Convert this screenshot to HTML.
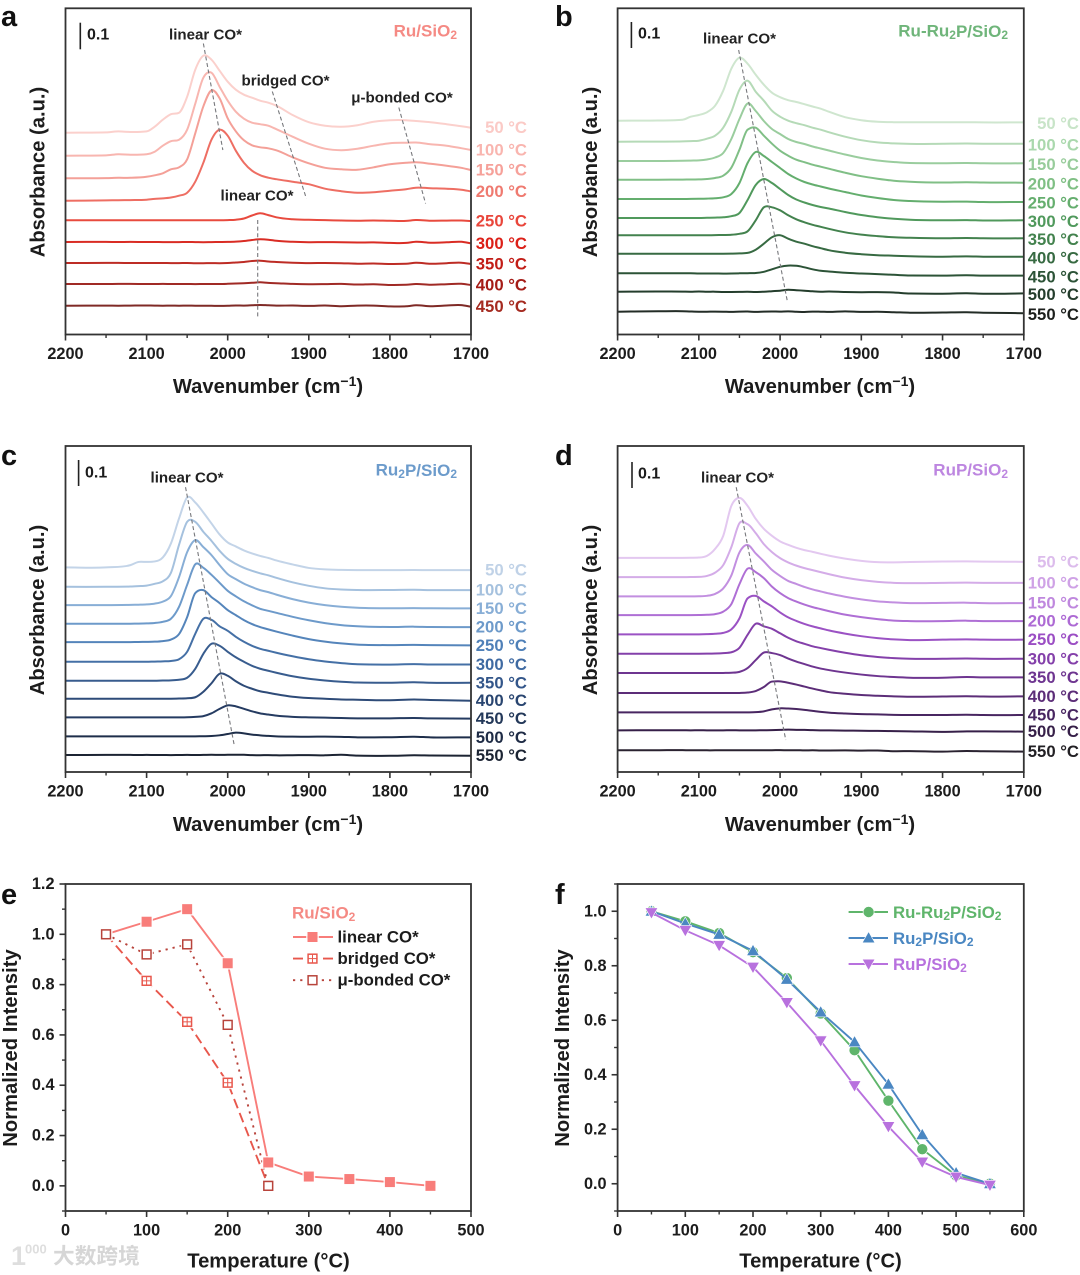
<!DOCTYPE html>
<html lang="en">
<head>
<meta charset="utf-8">
<title>CO adsorption spectra and normalized intensity</title>
<style>
  html,body{margin:0;padding:0;background:#fff;}
  body{width:1080px;height:1275px;overflow:hidden;}
  svg{display:block;filter:blur(0.35px);}
  text{font-family:"Liberation Sans","Noto Sans CJK SC",sans-serif;font-weight:bold;fill:#1c1c1c;dominant-baseline:central;}
  .letter{font-size:29px;fill:#111;}
  .title{font-size:20.2px;text-anchor:middle;}
  .note{font-size:15.1px;text-anchor:middle;fill:#222;}
  .bar-label{font-size:16px;}
  .name{font-size:17px;text-anchor:end;}
  .frame{fill:none;stroke:#333;stroke-width:1.8;}
</style>
</head>
<body>
<svg id="figure" xmlns="http://www.w3.org/2000/svg" width="1080" height="1275" viewBox="0 0 1080 1275">
  <rect width="1080" height="1275" fill="#fff"/>

  <g id="panel-a">
    <text class="letter" x="1" y="17">a</text>
    <text class="title" transform="translate(38.6 172) rotate(-90)">Absorbance (a.u.)</text>
    <text class="title" x="268" y="387">Wavenumber (cm<tspan dy="-6" font-size="14">−1</tspan><tspan dy="6">)</tspan></text>
    <line x1="80.3" x2="80.3" y1="22.7" y2="49.3" stroke="#222" stroke-width="1.6"/>
    <text class="bar-label" x="87" y="35">0.1</text>
    <text class="name" x="457" y="31" style="fill:#f58a84">Ru/SiO<tspan dy="4" font-size="12">2</tspan></text>
    <text class="note" x="205.5" y="35">linear CO*</text>
    <text class="note" x="285.5" y="81">bridged CO*</text>
    <text class="note" x="402" y="98">μ-bonded CO*</text>
    <text class="note" x="257" y="196">linear CO*</text>
  </g>

  <g id="panel-b">
    <text class="letter" x="555" y="17">b</text>
    <text class="title" transform="translate(591 172) rotate(-90)">Absorbance (a.u.)</text>
    <text class="title" x="820" y="387">Wavenumber (cm<tspan dy="-6" font-size="14">−1</tspan><tspan dy="6">)</tspan></text>
    <line x1="631.4" x2="631.4" y1="22" y2="48" stroke="#222" stroke-width="1.6"/>
    <text class="bar-label" x="638" y="34">0.1</text>
    <text class="name" x="1008" y="31" style="fill:#6fb57a">Ru-Ru<tspan dy="4" font-size="12">2</tspan><tspan dy="-4">P/SiO</tspan><tspan dy="4" font-size="12">2</tspan></text>
    <text class="note" x="739.5" y="39">linear CO*</text>
  </g>

  <g id="panel-c">
    <text class="letter" x="1" y="456">c</text>
    <text class="title" transform="translate(38 610) rotate(-90)">Absorbance (a.u.)</text>
    <text class="title" x="268" y="825">Wavenumber (cm<tspan dy="-6" font-size="14">−1</tspan><tspan dy="6">)</tspan></text>
    <line x1="78.6" x2="78.6" y1="460" y2="486" stroke="#222" stroke-width="1.6"/>
    <text class="bar-label" x="85" y="473">0.1</text>
    <text class="name" x="457" y="470" style="fill:#6c9bcb">Ru<tspan dy="4" font-size="12">2</tspan><tspan dy="-4">P/SiO</tspan><tspan dy="4" font-size="12">2</tspan></text>
    <text class="note" x="187" y="478">linear CO*</text>
  </g>

  <g id="panel-d">
    <text class="letter" x="555" y="456">d</text>
    <text class="title" transform="translate(591 610) rotate(-90)">Absorbance (a.u.)</text>
    <text class="title" x="820" y="825">Wavenumber (cm<tspan dy="-6" font-size="14">−1</tspan><tspan dy="6">)</tspan></text>
    <line x1="632" x2="632" y1="462" y2="488" stroke="#222" stroke-width="1.6"/>
    <text class="bar-label" x="638" y="474">0.1</text>
    <text class="name" x="1008" y="470" style="fill:#bd86e0">RuP/SiO<tspan dy="4" font-size="12">2</tspan></text>
    <text class="note" x="737.5" y="478">linear CO*</text>
  </g>

  <g id="panel-e">
    <text class="letter" x="1" y="895">e</text>
    <text class="title" transform="translate(11 1048) rotate(-90)">Normalized Intensity</text>
    <text class="title" x="268.5" y="1261.5">Temperature (°C)</text>
    <text class="name" style="text-anchor:start;fill:#f58a84" x="292" y="913">Ru/SiO<tspan dy="4" font-size="12">2</tspan></text>
  </g>

  <g id="panel-f">
    <text class="letter" x="555" y="895">f</text>
    <text class="title" transform="translate(563 1048) rotate(-90)">Normalized Intensity</text>
    <text class="title" x="820.5" y="1261.5">Temperature (°C)</text>
  </g>

  <g id="watermark">
    <text x="11" y="1256" style="font-size:27px;fill:#dedede">1</text>
    <text x="25" y="1249" style="font-size:13px;fill:#dedede">000</text>
    <text x="53" y="1256" style="font-size:21.7px;fill:#d6d6d6;font-weight:bold">大数跨境</text>
  </g>
</svg>

<script>
/* ---------- shared axis values ---------- */
const waveMajorTicks = [2200, 2100, 2000, 1900, 1800, 1700];
const waveMinorTicks = [2150, 2050, 1950, 1850, 1750];

/* wavenumber sampling (cm-1) */
const gridA = [2200,2150,2135,2120,2100, 2090,2080,2070,2060,2050,2040,2030,2020,2010,2000, 1990,1980,1970,1960,1950,1940,1920,1900,1880,1860, 1840,1820,1800,1780,1768,1750,1730,1712,1700];
const gridBCD = [2200,2150,2120,2110,2100, 2090,2080,2070,2060,2050,2040,2030,2020,2010,2000, 1990,1980,1970,1960,1950,1940,1920,1900,1880,1860, 1840,1800,1770,1750,1700];

/* ---------- panel a: Ru/SiO2 ---------- */
const tempsA = ['50 °C','100 °C','150 °C','200 °C','250 °C','300 °C','350 °C','400 °C','450 °C'];
const baselineA = [201.8,178.8,156.2,133.8,114.2,92.5,71.5,50.5,28.8];
const a050 = [0,.3,1.3,.7,1.3, 6,13,18.5,20,36,63,77,73,62,51, 43,38,35,32,30,27,17.7,10.5,7,6, 7.5,11,12.5,12.5,11.7,10.5,8.5,6.5,5];
const a100 = [0,.3,1.5,1,1.5, 4,10,14.5,16,26,52,78,83,69,55, 44,37,33,31.5,30,26.5,19,12,7,5.5, 7,10,12.5,13,13.2,11.5,10,7.5,5.7];
const a150 = [0,.2,.5,.5,1.5, 3,5,9,11,19,45,72,88,80,60, 47,38,33,31,30,28,21,15,10.5,9, 8.5,11,14,15.5,16,14.5,12.5,10.5,8.3];
const a200 = [0,.3,.5,.6,1, 1.8,2.3,3.2,5,8,19,38,61,71,65, 50,38,30,25.5,23,21.5,19,16.5,12,9.5, 8,8.5,10,11.5,13,12.5,12,11,9.3];
const a250 = [0,0,0,0,0, 0,0,0,0,0,0,0,0,0,.2, .6,1.8,4.8,7,5.2,3,1,.5,.2,-.2, -.4,-.2,-.5,-.6,.3,-.4,-.3,-.2,-.8];
const a300 = [0,.1,0,.1,0, 0,-.1,-.1,-.1,0,-.1,-.2,-.1,0,.1, .4,1,2,2.7,2.3,1.2,.2,-.2,-.1,-.3, -.5,-.4,-.9,-.9,.2,-.7,-.3,.2,-1.3];
const a350 = [0,.1,.1,0,0, 0,0,-.1,-.1,0,-.2,-.2,-.1,-.2,0, .5,1,2,2.3,1.5,1,.3,-.1,0,-.2, -.7,-.5,-1,-.8,.2,-.8,-.2,.3,-1];
const a400 = [0,0,.1,.1,0, 0,.1,0,0,0,-.1,0,0,0,.2, .5,.8,1.2,1.7,1.1,.8,.1,-.2,-.1,.1, -.5,-.2,-1,-.8,0,-.7,-.2,.2,-1];
const a450 = [0,.1,0,.1,.2, .1,0,.1,0,.1,0,0,-.1,-.2,-.1, .2,.1,.4,.7,.4,.1,.2,-.2,.2,-.5, .1,.1,-.7,-.6,.4,-.5,.2,.6,-1];
const seriesA = [a050,a100,a150,a200,a250,a300,a350,a400,a450];
const guidesA = [[2030,291,2006,184.5],[1945,243,1903,136],[1789,227,1756,131],[1963,114.5,1963,16]];

/* ---------- panel b: Ru-Ru2P/SiO2 ---------- */
const tempsLong = ['50 °C','100 °C','150 °C','200 °C','250 °C','300 °C','350 °C','400 °C','450 °C','500 °C','550 °C'];
const baselineB = [213.8,192.8,173.5,154.8,135.5,116.5,99.2,80.8,61.2,42.8,22.8];
const b050 = [0,.2,1,4,5.7, 8.5,15,30,52,63,57,46,36,28,23.5, 20.5,18.7,16.5,14.2,12,9,3.5,.5,-1,-1.5, -1.6,-1.6,-1.5,-1.7,-1.7];
const b100 = [0,.1,.3,.6,1, 3,6,14,30,52,61,50,41,31,25, 21,18.5,16.5,14,12,9.5,5,1.5,-.7,-1.7, -2.2,-2,-1.8,-2,-2];
const b150 = [0,0,.2,.4,.6, 1.5,3.5,8,22,42,57.5,50,40,32,27, 22,19,17,14.5,12.5,10.5,6.5,3,.5,-1, -2,-2.2,-2,-2.3,-2.3];
const b200 = [0,0,.1,.2,.3, .7,1.7,4,12,30,50,52,44,36,29, 24,20,17.5,15,13,11,7,3.5,1,-1, -2,-2.8,-2.5,-2.8,-3];
const b250 = [0,0,0,.1,.2, .4,.8,1.7,5,16,36,47,43,37,31, 25,20.5,17,14.5,12.5,10.5,7,3.5,1,-1, -2,-2.7,-2.6,-3,-3];
const b300 = [0,0,0,0,0, .2,.4,.7,1.8,5,18,33,39,35,29, 23,18.5,15.5,13,11,9.5,6,3,.8,-.8, -1.8,-2.3,-2.1,-2.5,-2.3];
const b350 = [0,0,0,0,0, 0,.2,.3,.5,1.5,4,15,28,28,25, 20,16,13,10.5,8.5,6.5,3,.7,-.8,-2, -2.5,-3,-2.7,-3,-3];
const b400 = [0,0,0,0,0, 0,0,0,.1,.3,.8,4,10,16.5,18.5, 15,12,10,7.5,5.5,3.5,1,-.5,-1.5,-2, -2.5,-3,-2.7,-3,-3];
const b450 = [0,0,0,0,-.2, -.2,-.2,-.3,-.2,0,.1,.3,1.5,4,6.5, 7.7,7.5,6,4,2.5,1.8,.5,-.2,-.8,-1.5, -2.2,-2.3,-2,-2.3,-2.3];
const b500 = [0,.2,.1,0,.2, 0,0,-.3,-.3,-.2,-.1,-.3,0,.5,1, 2,1.5,1,.4,0,.2,-.3,-.5,-.4,-.8, -1.8,-2,-1.6,-2,-1.7];
const b550 = [0,.4,.5,.2,0, 0,.1,0,-.2,.1,.2,-.2,.1,.2,.1, .3,0,-.3,.1,0,-.2,.3,-.2,-.1,-.5, -1,-.8,-.6,-1,-1.5];
const seriesB = [b050,b100,b150,b200,b250,b300,b350,b400,b450,b500,b550];
const guidesB = [[2051,284.5,1991,33]];

/* ---------- panel c: Ru2P/SiO2 ---------- */
const baselineC = [204.7,185.3,167,148.3,130,110.3,91.3,73.3,54.7,35.7,17];
const c050 = [0,0,2.3,5.5,5.5, 6,10,24,49,70,65,55,44,33,25, 21,17,14,11.5,9.5,7,3,-.5,-2,-2.5, -2.7,-2.7,-2.6,-2.7,-2.7];
const c100 = [0,0,.3,.7,1.2, 3,5.5,14,42,65,65,55,46,36,28, 23,19,16,13.5,11.5,9,4.5,1,-1.5,-2.7, -3.2,-3.2,-3,-3.3,-3.3];
const c150 = [0,0,.2,.4,.7, 1.5,3.5,9,28,53,65,58,50,40,31, 26,21.5,18,15,13,10.5,6,2.5,0,-1.7, -2.7,-3.2,-3,-3.2,-3.3];
const c200 = [0,0,.1,.2,.4, .8,2,5,17,39,59.5,56,49,41,33, 27.5,22.5,18.5,15,13,11,7,3.5,.7,-1.3, -2.5,-3.2,-2.9,-3.2,-3.3];
const c250 = [0,0,0,.1,.2, .4,1,2.5,8,25,49,52,45,39,32, 27,22,18,15,12.7,10.5,6.5,3,.5,-1.3, -2.5,-3,-2.8,-3,-3.3];
const c300 = [0,0,0,0,0, .2,.4,.8,2.5,10,28,43,42,35.5,31, 25,20,16,13,11,9,5.5,2.5,.3,-1.3, -2.5,-2.8,-2.4,-2.7,-2.7];
const c350 = [0,0,0,0,0, 0,.2,.4,1,3,12,27,37,35,29, 23.5,19,15,12,10,8,4.5,2,.3,-1, -1.8,-2,-1.5,-2,-2];
const c400 = [0,0,0,0,0, 0,0,0,.2,.5,1.5,7,15.5,25,23, 17.5,13,10,7.5,6,4.5,2,.7,0,-.7, -1,-1.5,-.8,-1.2,-2];
const c450 = [0,0,0,0,0, 0,0,0,0,.1,.5,1.2,4,8.5,12, 11,8.5,6,4,2.8,1.7,.5,0,-.3,-.7, -1,-1,-.7,-1,-1.3];
const c500 = [0,0,0,0,0, 0,0,0,0,0,0,.1,.3,1,2.3, 3.7,3,1.7,1,.4,0,-.3,-.4,-.3,-.5, -1,-.9,-.4,-1,-1];
const c550 = [0,.1,.1,0,.1, 0,0,-.1,0,.1,0,.1,.2,.1,.2, .3,.2,-.1,-.2,-.1,-.3,-.2,-.1,-.3,.2, -.6,-.8,-.3,-.5,-.7];
const seriesC = [c050,c100,c150,c200,c250,c300,c350,c400,c450,c500,c550];
const guidesC = [[2052,285,1992,27]];

/* ---------- panel d: RuP/SiO2 ---------- */
const baselineD = [214.3,195,175.7,157,137.7,118.3,99,79,59.7,41.7,21.7];
const d050 = [0,0,0,.1,.3, 2,9,22,52,60,52,39,29,22,16.5, 13,10,7.7,6,4,2.2,-.8,-3,-4.3,-4.5, -4.2,-3.7,-3.6,-3.8,-4];
const d100 = [0,0,0,.1,.2, 1.2,4.5,12,30,54,53,44,33,25,19, 14.7,11.5,9,7,5,3,-.5,-3,-4.7,-5.7, -6,-5.7,-5.5,-5.7,-5.7];
const d150 = [0,0,0,0,.1, .6,2.5,8,21,44,51.5,43,35,26.5,20.5, 15.5,12.5,9.5,7,5,3,-.3,-3,-5,-6, -6.7,-6.5,-6.3,-6.7,-6.7];
const d200 = [0,0,0,0,.1, .3,1,3.5,11,31,46.5,43,37,28.5,22, 17,13.5,10.5,8,6,4,.5,-2,-4,-5.5, -6,-6,-5.6,-6,-6];
const d250 = [0,0,0,0,0, .2,.6,1.5,5,16,36,38.5,33,28,22, 17,13.5,10.5,8,6,4,.8,-1.8,-3.7,-5, -5.7,-5.3,-5,-5.3,-5.3];
const d300 = [0,0,0,0,0, .1,.3,.7,1.5,6,19,30,27.5,25,20.5, 16,12.5,10,7.5,5.7,4,1,-1.5,-3.2,-4.3, -5,-5,-4.7,-5,-5];
const d350 = [0,0,0,0,0, 0,0,.1,.3,1.2,5,13,20.5,20,18, 14.5,11.5,9,6.5,4.5,3,.5,-1.5,-3,-4, -4.7,-4.7,-4,-4.3,-4.3];
const d400 = [0,0,0,0,0, 0,0,0,0,.1,.5,2,6,11.5,11.7, 10.3,8.5,6.5,4.5,2.7,1,-.7,-2,-2.7,-3.3, -3.7,-3.5,-3.2,-3.5,-3.3];
const d450 = [0,0,0,0,0, 0,0,0,0,0,0,.2,1,3,4, 3.8,3.3,2.5,1.5,.5,-.3,-1.2,-1.8,-2,-2.5, -2.7,-2.7,-2.4,-2.7,-2.7];
const d500 = [0,.1,.1,0,.1, 0,0,0,.1,0,0,0,.1,.2,.4, .7,.5,.4,.2,0,-.1,-.3,-.4,-.6,-.8, -1,-1.5,-1.1,-1,-1.3];
const d550 = [0,.1,.2,0,.1, 0,0,.1,0,.1,0,.1,.1,.1,.2, 0,.1,-.1,0,-.2,-.2,-.1,-.3,-.2,-.9, -.8,-1.3,-.7,-1,-1.3];
const seriesD = [d050,d100,d150,d200,d250,d300,d350,d400,d450,d500,d550];
const guidesD = [[2054,285,1993,32]];

/* ---------- panel e: normalized intensity on Ru/SiO2 ---------- */
const tempE = [50,100,150,200,250,300,350,400,450];
const linearCO = [1,1.05,1.1,.885,.093,.037,.027,.015,0];
const bridgedCO = [1,.815,.652,.41,0];
const muBondedCO = [1,.92,.96,.64,0];
const eXTicks = [0,100,200,300,400,500];
const eXMinor = [50,150,250,350,450];
const eYTicks = [0,.2,.4,.6,.8,1,1.2];
const eYMinor = [-.1,.1,.3,.5,.7,.9,1.1];

/* ---------- panel f: normalized linear CO* intensity ---------- */
const tempF = [50,100,150,200,250,300,350,400,450,500,550];
const ruRu2P = [1,.963,.92,.85,.755,.625,.49,.305,.127,.03,0];
const ru2P = [1,.955,.915,.855,.75,.63,.52,.365,.18,.04,0];
const ruP = [.995,.93,.875,.795,.665,.525,.36,.21,.08,.025,-.005];
const fXTicks = [0,100,200,300,400,500,600];
const fXMinor = [50,150,250,350,450,550];
const fYTicks = [0,.2,.4,.6,.8,1];
const fYMinor = [-.1,.1,.3,.5,.7,.9,1.1];

/* ---------- palettes ---------- */
const coloursA = ['#fbd0cc','#f8b6b0','#f4a098','#ee6e63','#e84a3e','#d92c24','#bd2c25','#a02a25','#7f2a26'];
const labelsA  = ['#fbcac6','#f9b5af','#f6a19a','#ef7a70','#e9463b','#dc2018','#c21d17','#a51c17','#a52a20'];
const coloursB = ['#cfe6cf','#b5dab7','#9acd9e','#80bf86','#64ae6e','#50995c','#43824e','#376a42','#2c5337','#243d2c','#232c26'];
const labelsB  = ['#c8e4c8','#aad8ad','#98cc9b','#7fbf84','#65ae6e','#50995c','#43824e','#376a42','#2c5337','#243d2c','#1c1f1c'];
const coloursC = ['#c3d4e8','#a5c1de','#88aed6','#6d9aca','#5585bb','#4570a6','#385c8e','#2e4b78','#253b61','#1e2e4a','#1c2433'];
const labelsC  = ['#c0d2e7','#a5c1de','#88aed6','#6d9aca','#4f80b8','#3f6aa2','#33568a','#294570','#233859','#1e2b45','#1c2433'];
const coloursD = ['#e3c8f0','#d4ace8','#c28fe0','#af6fd5','#9b52c4','#8440aa','#6e3590','#5c2d78','#482661','#361f48','#2a2230'];
const labelsD  = ['#dcbcec','#cfa2e6','#bf88de','#ad6ad4','#9b4ec4','#8440aa','#6e3590','#5c2d78','#482661','#361f48','#222024'];
const colLinear = '#f87d7a';
const colBridged = '#e8574c';
const colMu = '#b8433b';
const colGreen = '#5fb56b';
const colBlue = '#4a87c2';
const colPurple = '#b871de';

/* ---------- layout ---------- */
const P_A = {x0:65.5, x1:471,   top:8.3,  bottom:334.5, labelX:527};
const P_B = {x0:617.6,x1:1023.8,top:8.3,  bottom:334.5, labelX:1079};
const P_C = {x0:65.5, x1:471,   top:446,  bottom:772,   labelX:527};
const P_D = {x0:617.6,x1:1023.8,top:446,  bottom:772,   labelX:1079};
const P_E = {x0:65.5, x1:471,   top:884,  bottom:1211, tMax:500, nMin:-.1, nMax:1.2};
const P_F = {x0:617.6,x1:1023.8,top:884,  bottom:1211, tMax:600, nMin:-.1, nMax:1.1};
const AU_PER_PANEL = 326.2;

/* ---------- axis functions ---------- */
function xWave(p, w){ return p.x0 + (2200 - w) / 500 * (p.x1 - p.x0); }
function yAu(p, v){ return p.bottom - v / AU_PER_PANEL * (p.bottom - p.top); }
function xTemp(p, t){ return p.x0 + t / p.tMax * (p.x1 - p.x0); }
function yNorm(p, n){ return p.bottom - (n - p.nMin) / (p.nMax - p.nMin) * (p.bottom - p.top); }

const SVG_NS = 'http://www.w3.org/2000/svg';
function mk(tag, parent, props){
  const e = document.createElementNS(SVG_NS, tag);
  for (const k in props) e.setAttribute(k, props[k]);
  parent.appendChild(e);
  return e;
}

/* smooth cubic path through points with rounded peaks */
function smoothPath(pts){
  const n = pts.length, d = [], h = [], m = [];
  for (let i = 0; i < n - 1; i++) {
    h.push(pts[i+1][0] - pts[i][0]);
    d.push((pts[i+1][1] - pts[i][1]) / h[i]);
  }
  m.push(d[0]);
  for (let i = 1; i < n - 1; i++) {
    let t = (d[i-1] * h[i] + d[i] * h[i-1]) / (h[i-1] + h[i]);
    if (d[i-1] * d[i] > 0) {
      const lim = 3 * Math.min(Math.abs(d[i-1]), Math.abs(d[i]));
      if (Math.abs(t) > lim) t = Math.sign(t) * lim;
    }
    m.push(t);
  }
  m.push(d[n-2]);
  let s = 'M' + pts[0][0].toFixed(2) + ' ' + pts[0][1].toFixed(2);
  for (let i = 0; i < n - 1; i++) {
    const c = h[i] / 3;
    s += 'C' + (pts[i][0] + c).toFixed(2) + ' ' + (pts[i][1] + m[i] * c).toFixed(2) + ' ' +
         (pts[i+1][0] - c).toFixed(2) + ' ' + (pts[i+1][1] - m[i+1] * c).toFixed(2) + ' ' +
         pts[i+1][0].toFixed(2) + ' ' + pts[i+1][1].toFixed(2);
  }
  return s;
}

function drawFrame(g, p){
  const frame = mk('rect', g, {x:p.x0, y:p.top, width:p.x1-p.x0, height:p.bottom-p.top, class:'frame'});
  
  
}

function drawXTicks(g, p, xFn, majors, minors){
  majors.forEach(function(v){
    const x = xFn(p, v);
    const t = mk('line', g, {x1:x, x2:x, y1:p.bottom, y2:p.bottom+6, stroke:'#333', 'stroke-width':1.6});
    
    
    const lab = mk('text', g, {x:x, y:p.bottom+19.5, 'text-anchor':'middle', 'font-size':16.3});
    lab.textContent = String(v);
    
    
  });
  minors.forEach(function(v){
    const x = xFn(p, v);
    const t = mk('line', g, {x1:x, x2:x, y1:p.bottom, y2:p.bottom+3.5, stroke:'#333', 'stroke-width':1.4});
    
    
  });
}

function drawYTicks(g, p, majors, minors){
  majors.forEach(function(v){
    const y = yNorm(p, v);
    const t = mk('line', g, {x1:p.x0-6, x2:p.x0, y1:y, y2:y, stroke:'#333', 'stroke-width':1.6});
    
    
    const lab = mk('text', g, {x:p.x0-11, y:y, 'text-anchor':'end', 'font-size':16.3});
    lab.textContent = v.toFixed(1);
    
    
  });
  minors.forEach(function(v){
    const y = yNorm(p, v);
    const t = mk('line', g, {x1:p.x0-3.5, x2:p.x0, y1:y, y2:y, stroke:'#333', 'stroke-width':1.4});
    
    
  });
}

function drawSpectra(g, p, grid, series, baseline, temps, colours, labelColours, guides, labelShift){
  series.forEach(function(sig, i){
    const pts = sig.map(function(v, j){ return [xWave(p, grid[j]), yAu(p, baseline[i] + v)]; });
    const path = mk('path', g, {d:smoothPath(pts), fill:'none', stroke:colours[i], 'stroke-width':2, 'stroke-linejoin':'round'});
    
    
    const lab = mk('text', g, {x:p.labelX, y:pts[pts.length-1][1] + labelShift, 'text-anchor':'end', 'font-size':16.7, style:'fill:' + labelColours[i]});
    lab.textContent = temps[i];
    
    
  });
  guides.forEach(function(c){
    const l = mk('line', g, {x1:xWave(p,c[0]), y1:yAu(p,c[1]), x2:xWave(p,c[2]), y2:yAu(p,c[3]), stroke:'#77787c', 'stroke-width':1.1, 'stroke-dasharray':'4 2.6'});
    
    
  });
}

function polyline(g, pts, colour, dash){
  const props = {points:pts.map(function(q){ return q[0].toFixed(2) + ',' + q[1].toFixed(2); }).join(' '), fill:'none', stroke:colour, 'stroke-width':1.9};
  if (dash) props['stroke-dasharray'] = dash;
  return mk('polyline', g, props);
}

function squareMarker(g, x, y, style, colour){
  const group = mk('g', g, {});
  mk('rect', group, {x:x-6.4, y:y-6.4, width:12.8, height:12.8, fill:'#fff', opacity:.85});
  if (style === 'solid') {
    mk('rect', group, {x:x-5, y:y-5, width:10, height:10, fill:colour});
  } else {
    mk('rect', group, {x:x-4.4, y:y-4.4, width:8.8, height:8.8, fill:'#fff', stroke:colour, 'stroke-width':1.5});
    if (style === 'cross') {
      mk('line', group, {x1:x-4.4, x2:x+4.4, y1:y, y2:y, stroke:colour, 'stroke-width':1});
      mk('line', group, {x1:x, x2:x, y1:y-4.4, y2:y+4.4, stroke:colour, 'stroke-width':1});
    }
  }
  return group;
}

function shapeMarker(g, x, y, shape, colour){
  if (shape === 'circle') return mk('circle', g, {cx:x, cy:y, r:5.5, fill:colour, stroke:'#fff', 'stroke-width':.6});
  const s = 6.4;
  const pts = shape === 'up'
    ? [[x, y-s], [x+s, y+s*.75], [x-s, y+s*.75]]
    : [[x, y+s], [x+s, y-s*.75], [x-s, y-s*.75]];
  return mk('polygon', g, {points:pts.map(function(q){ return q.join(','); }).join(' '), fill:colour, stroke:'#fff', 'stroke-width':.6});
}

/* ---------- draw panels a-d ---------- */
const gA = document.getElementById('panel-a');
const gB = document.getElementById('panel-b');
const gC = document.getElementById('panel-c');
const gD = document.getElementById('panel-d');
const gE = document.getElementById('panel-e');
const gF = document.getElementById('panel-f');

drawSpectra(gA, P_A, gridA, seriesA, baselineA, tempsA, coloursA, labelsA, guidesA, 0);
drawSpectra(gB, P_B, gridBCD, seriesB, baselineB, tempsLong, coloursB, labelsB, guidesB, 1.2);
drawSpectra(gC, P_C, gridBCD, seriesC, baselineC, tempsLong, coloursC, labelsC, guidesC, 0);
drawSpectra(gD, P_D, gridBCD, seriesD, baselineD, tempsLong, coloursD, labelsD, guidesD, 0);
[[gA,P_A],[gB,P_B],[gC,P_C],[gD,P_D]].forEach(function(pair){
  drawFrame(pair[0], pair[1]);
  drawXTicks(pair[0], pair[1], xWave, waveMajorTicks, waveMinorTicks);
});

/* ---------- panel e ---------- */
drawFrame(gE, P_E);
drawXTicks(gE, P_E, xTemp, eXTicks, eXMinor);
drawYTicks(gE, P_E, eYTicks, eYMinor);

const eDefs = [
  {values:linearCO,   colour:colLinear,  dash:null,   style:'solid',  key:'linear-co',    label:'linear CO*'},
  {values:bridgedCO,  colour:colBridged, dash:'10 5', style:'cross',  key:'bridged-co',   label:'bridged CO*'},
  {values:muBondedCO, colour:colMu,      dash:'2.2 5', style:'hollow', key:'mu-bonded-co', label:'μ-bonded CO*'}
];
eDefs.forEach(function(s){
  const pts = s.values.map(function(v, i){ return [xTemp(P_E, tempE[i]), yNorm(P_E, v)]; });
  const line = polyline(gE, pts, s.colour, s.dash);
  
  
});
eDefs.forEach(function(s){
  s.values.forEach(function(v, i){
    const m = squareMarker(gE, xTemp(P_E, tempE[i]), yNorm(P_E, v), s.style, s.colour);
    
    
  });
});
eDefs.forEach(function(s, i){
  const y = 937 + i * 21.6;
  const line = polyline(gE, [[293, y], [333, y]], s.colour, s.dash);
  
  
  const m = squareMarker(gE, 312.5, y, s.style, s.colour);
  
  
  const t = mk('text', gE, {x:337.5, y:y, 'font-size':16.8});
  t.textContent = s.label;
  
  
});

/* ---------- panel f ---------- */
drawFrame(gF, P_F);
drawXTicks(gF, P_F, xTemp, fXTicks, fXMinor);
drawYTicks(gF, P_F, fYTicks, fYMinor);

const fDefs = [
  {values:ruRu2P, colour:colGreen,  shape:'circle', key:'ru-ru2p', parts:['Ru-Ru','2','P/SiO','2']},
  {values:ru2P,   colour:colBlue,   shape:'up',     key:'ru2p',    parts:['Ru','2','P/SiO','2']},
  {values:ruP,    colour:colPurple, shape:'down',   key:'rup',     parts:['RuP/SiO','2']}
];
fDefs.forEach(function(s){
  const pts = s.values.map(function(v, i){ return [xTemp(P_F, tempF[i]), yNorm(P_F, v)]; });
  const line = polyline(gF, pts, s.colour, null);
  
  
  s.values.forEach(function(v, i){
    const m = shapeMarker(gF, xTemp(P_F, tempF[i]), yNorm(P_F, v), s.shape, s.colour);
    
    
  });
});
fDefs.forEach(function(s, i){
  const y = 912 + i * 26;
  const line = polyline(gF, [[848.6, y], [888, y]], s.colour, null);
  
  
  const m = shapeMarker(gF, 868.6, y, s.shape, s.colour);
  
  
  const t = mk('text', gF, {x:893, y:y, 'font-size':16.8, style:'fill:' + s.colour});
  
  
  let sub = false;
  s.parts.forEach(function(part){
    const span = mk('tspan', t, {dy: part === '2' ? 4 : (sub ? -4 : 0)});
    if (part === '2') span.setAttribute('font-size', '12');
    span.textContent = part;
    sub = part === '2';
  });
});
</script>
</body>
</html>
